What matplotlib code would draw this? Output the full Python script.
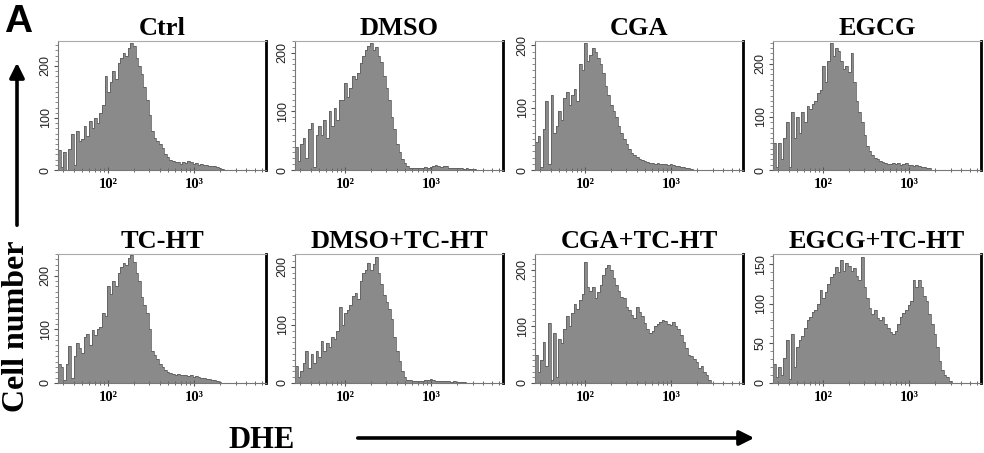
import numpy as np
import matplotlib
matplotlib.use("Agg")
import matplotlib.pyplot as plt
from matplotlib.ticker import MultipleLocator, LogLocator, NullFormatter
from matplotlib.patches import FancyArrowPatch

# DHE fluorescence histograms: counts per log-spaced channel (0.03 decade wide),
# starting at 10^1.42.
titles = ["Ctrl", "DMSO", "CGA", "EGCG",
          "TC-HT", "DMSO+TC-HT", "CGA+TC-HT", "EGCG+TC-HT"]

ctrl = [38, 5, 35, 0, 40, 70, 10, 75, 55, 60, 85, 65, 95, 80, 100, 90, 110, 125,
        180, 150, 170, 190, 175, 205, 215, 225, 220, 235, 245, 238, 215, 200, 185,
        160, 135, 105, 75, 62, 55, 50, 42, 30, 25, 20, 17, 15, 16, 12, 15, 14, 17,
        15, 12, 13, 10, 11, 9, 10, 8, 7, 8, 5, 4, 2]
dmso = [40, 15, 45, 55, 20, 70, 80, 5, 60, 75, 60, 85, 55, 100, 75, 105, 85, 120,
        120, 148, 125, 140, 160, 155, 165, 183, 195, 205, 211, 217, 205, 210, 195,
        185, 160, 140, 120, 90, 70, 45, 30, 18, 12, 6, 4, 3, 4, 3, 4, 3, 5, 4, 5, 6,
        8, 6, 5, 7, 6, 4, 3, 4, 3, 3, 4, 2, 3, 2, 2, 1]
cga = [45, 55, 5, 65, 110, 10, 120, 60, 70, 95, 80, 115, 125, 105, 120, 130, 110,
       170, 160, 203, 175, 185, 195, 190, 180, 170, 155, 135, 120, 105, 95, 85, 70,
       60, 50, 42, 33, 28, 24, 21, 18, 16, 14, 13, 12, 11, 10, 11, 10, 9, 10, 8, 9,
       8, 6, 7, 5, 5, 4, 3, 2]
egcg = [50, 5, 50, 20, 60, 90, 5, 110, 60, 100, 70, 110, 90, 120, 115, 125, 130,
        145, 150, 195, 165, 205, 240, 215, 230, 225, 205, 190, 195, 185, 220, 165,
        130, 110, 90, 65, 45, 35, 28, 22, 20, 17, 15, 13, 12, 12, 14, 11, 13, 10,
        12, 13, 9, 10, 8, 9, 7, 6, 6, 4, 3]
tcht = [36, 30, 5, 35, 68, 10, 50, 74, 65, 55, 85, 92, 70, 99, 90, 100, 105, 130,
        125, 180, 165, 190, 180, 205, 215, 224, 220, 232, 239, 225, 205, 190, 160,
        145, 130, 100, 60, 52, 45, 36, 30, 24, 21, 18, 16, 15, 16, 14, 15, 14, 13,
        14, 12, 13, 11, 10, 9, 8, 7, 6, 5, 4, 2]
dmso_tcht = [30, 10, 20, 35, 55, 25, 50, 35, 55, 45, 72, 55, 68, 62, 80, 75, 90,
             130, 100, 120, 125, 135, 150, 155, 145, 175, 190, 195, 206, 195, 205,
             217, 190, 170, 152, 140, 128, 110, 80, 55, 38, 20, 10, 6, 5, 4, 4, 3, 4,
             3, 5, 6, 7, 5, 4, 4, 3, 4, 3, 3, 2, 3, 2, 2, 1, 1]
cga_tcht = [50, 20, 40, 72, 30, 106, 5, 89, 10, 78, 70, 95, 118, 100, 123, 140,
            130, 146, 157, 214, 169, 163, 170, 150, 160, 174, 191, 203, 208, 200,
            185, 174, 163, 152, 150, 135, 129, 120, 115, 135, 125, 118, 106, 95, 89,
            92, 100, 105, 108, 112, 110, 105, 102, 108, 100, 95, 85, 72, 61, 50, 48,
            42, 38, 27, 30, 20, 15, 5]
egcg_tcht = [24, 8, 20, 10, 32, 54, 5, 62, 20, 45, 54, 60, 70, 79, 83, 90, 92, 100,
             117, 108, 115, 125, 134, 138, 146, 140, 155, 142, 151, 148, 142, 145,
             135, 130, 159, 121, 108, 95, 87, 92, 82, 79, 84, 75, 70, 65, 62, 66, 75,
             83, 88, 92, 98, 104, 130, 121, 130, 121, 110, 104, 87, 75, 62, 45, 28,
             16, 10, 7, 3]

series = [ctrl, dmso, cga, egcg, tcht, dmso_tcht, cga_tcht, egcg_tcht]
y_max = [248, 220, 207, 243, 240, 222, 228, 163]
y_ticks = [[0, 100, 200]] * 7 + [[0, 50, 100, 150]]

n_bins = 80
log_start, log_step = 1.42, 0.03
edges = 10 ** (log_start + log_step * np.arange(n_bins + 1))

W, H = 984, 453
fig = plt.figure(figsize=(W / 100, H / 100), dpi=100)

serif = ["Liberation Serif", "DejaVu Serif"]
sans = ["Liberation Sans", "DejaVu Sans"]

col_left = [58, 295, 535, 773]
row_top = [41, 254]
pw, ph = 208, 129

fill_col = "#8a8a8a"
edge_col = "#5a5a5a"

for i, (name, counts) in enumerate(zip(titles, series)):
    r, c = divmod(i, 4)
    ax = fig.add_axes([col_left[c] / W, (H - row_top[r] - ph) / H, pw / W, ph / H])
    vals = np.zeros(n_bins)
    vals[:len(counts)] = counts
    ax.stairs(vals, edges, fill=True, color=fill_col, lw=0)
    ax.stairs(vals, edges, color=edge_col, lw=0.55, baseline=None)

    ax.set_xscale("log")
    ax.set_xlim(edges[0], 10 ** 3.83)
    ax.set_ylim(0, y_max[i])

    ax.set_xticks([100, 1000])
    ax.set_xticklabels(["10²", "10³"], fontfamily=serif, fontweight="bold",
                       fontsize=10.5)
    ax.xaxis.set_minor_locator(LogLocator(base=10, subs=np.arange(2, 10)))
    ax.xaxis.set_minor_formatter(NullFormatter())

    ax.set_yticks(y_ticks[i])
    ax.set_yticklabels([str(v) for v in y_ticks[i]], rotation=90, va="center",
                       fontfamily=sans, fontsize=9, color="#222222")
    ax.yaxis.set_minor_locator(MultipleLocator(10))

    ax.tick_params(axis="x", which="major", direction="inout", length=5,
                   width=0.8, color="#555555", pad=3)
    ax.tick_params(axis="x", which="minor", direction="inout", length=3,
                   width=0.7, color="#666666")
    ax.tick_params(axis="y", which="major", direction="out", length=3,
                   width=0.8, color="#555555", pad=1.5)
    ax.tick_params(axis="y", which="minor", direction="out", length=2,
                   width=0.6, color="#777777")

    for side in ("left", "bottom"):
        ax.spines[side].set_color("#777777")
        ax.spines[side].set_linewidth(0.8)
    ax.spines["top"].set_color("#aaaaaa")
    ax.spines["top"].set_linewidth(0.8)
    ax.spines["right"].set_color("black")
    ax.spines["right"].set_linewidth(2.0)

    ax.set_title(name, fontfamily=serif, fontweight="bold", fontsize=19, pad=4)

# Panel letter
fig.text(4 / W, 1 - 4 / H, "A", fontfamily=sans, fontweight="bold",
         fontsize=28, va="top", ha="left")

# Axis captions with arrows
fig.text(17 / W, 1 - 326 / H, "Cell number", rotation=90, fontfamily=serif,
         fontweight="bold", fontsize=23, ha="center", va="center")
fig.text(228 / W, 1 - 440 / H, "DHE", fontfamily=serif, fontweight="bold",
         fontsize=22, ha="left", va="center")

fig.patches.append(FancyArrowPatch((17 / W, 1 - 228 / H), (17 / W, 1 - 60 / H),
                                   transform=fig.transFigure, arrowstyle="-|>",
                                   mutation_scale=22, lw=2.6, color="black"))
fig.patches.append(FancyArrowPatch((355 / W, 1 - 438 / H), (757 / W, 1 - 438 / H),
                                   transform=fig.transFigure, arrowstyle="-|>",
                                   mutation_scale=22, lw=2.6, color="black"))

fig.savefig("out.png", dpi=100)
